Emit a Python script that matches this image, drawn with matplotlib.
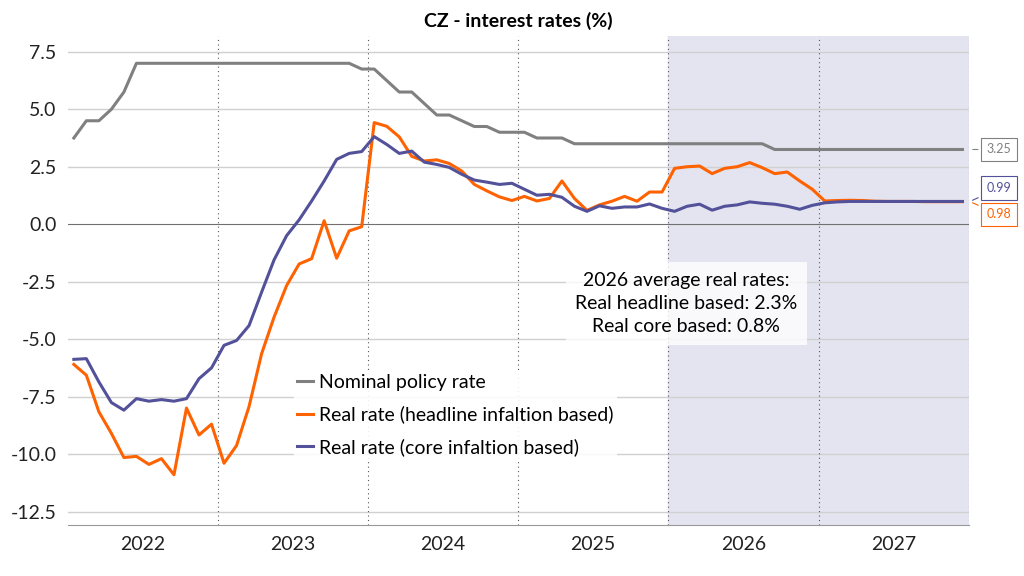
import numpy as np
import matplotlib
matplotlib.use('Agg')
import matplotlib.pyplot as plt

plt.rcParams['font.family'] = ['Lato', 'DejaVu Sans']

# monthly data, Jan 2022 .. Dec 2027
nominal = [3.75, 4.5, 4.5, 5.0, 5.75] + [7.0] * 18 + [6.75, 6.75, 6.25, 5.75, 5.75, 5.25,
           4.75, 4.75, 4.5, 4.25, 4.25, 4.0, 4.0, 4.0, 3.75, 3.75, 3.75] + [3.5] * 16 + [3.25] * 16
headline = [-6.1, -6.57, -8.16, -9.1, -10.15, -10.1, -10.45, -10.2, -10.9, -8.0, -9.17, -8.7,
            -10.4, -9.63, -7.93, -5.64, -4.04, -2.67, -1.73, -1.5, 0.15, -1.48, -0.29, -0.11,
            4.42, 4.26, 3.8, 2.95, 2.75, 2.8, 2.64, 2.31, 1.73, 1.45, 1.19, 1.03,
            1.21, 1.01, 1.12, 1.88, 1.12, 0.6, 0.84, 1.0, 1.21, 1.0, 1.4, 1.4,
            2.43, 2.5, 2.53, 2.2, 2.43, 2.5, 2.68, 2.46, 2.2, 2.27, 1.88, 1.52,
            1.01, 1.03, 1.04, 1.03, 1.0, 0.99, 0.99, 0.99, 0.98, 0.98, 0.98, 0.98]
core = [-5.88, -5.85, -6.86, -7.76, -8.09, -7.59, -7.7, -7.63, -7.7, -7.59, -6.72, -6.25,
        -5.27, -5.06, -4.41, -2.96, -1.55, -0.5, 0.19, 1.01, 1.88, 2.82, 3.08, 3.16,
        3.81, 3.47, 3.08, 3.18, 2.7, 2.6, 2.47, 2.17, 1.92, 1.83, 1.73, 1.78,
        1.52, 1.26, 1.3, 1.17, 0.78, 0.56, 0.8, 0.69, 0.75, 0.75, 0.88, 0.69,
        0.56, 0.78, 0.87, 0.61, 0.78, 0.84, 0.97, 0.91, 0.87, 0.78, 0.65, 0.82,
        0.93, 0.97, 0.99, 0.99, 0.99, 0.99, 0.99, 0.99, 0.99, 0.99, 0.99, 0.99]
years = [2022, 2023, 2024, 2025, 2026, 2027]

t = 2022 + (np.arange(len(nominal)) + 0.5) / 12

C_NOM, C_HEAD, C_CORE = '#808080', '#ff6200', '#525199'

fig = plt.figure(figsize=(10.24, 5.76), dpi=100)
ax = fig.add_axes([0.066, 0.088, 0.88, 0.85])

ax.axvspan(2026, 2028, color='#e4e4f0', zorder=0)
for y in [-12.5, -10, -7.5, -5, -2.5, 2.5, 5, 7.5]:
    ax.axhline(y, color='#d0d0d0', lw=1, zorder=1)
ax.axhline(0, color='#707070', lw=0.8, zorder=1)
for yr in years[1:] + [2028]:
    ax.axvline(yr, color='#555555', lw=0.8, ls=(0, (1, 3)), zorder=1)

ax.plot(t, nominal, color=C_NOM, lw=2.2, label='Nominal policy rate', zorder=3)
ax.plot(t, headline, color=C_HEAD, lw=2.2, label='Real rate (headline infaltion based)', zorder=3)
ax.plot(t, core, color=C_CORE, lw=2.2, label='Real rate (core infaltion based)', zorder=4)

ax.set_xlim(2022, 2028)
ax.set_ylim(-13.1, 8.2)
ax.set_yticks([-12.5, -10, -7.5, -5, -2.5, 0, 2.5, 5, 7.5])
ax.set_yticklabels([f'{v:.1f}' for v in [-12.5, -10, -7.5, -5, -2.5, 0, 2.5, 5, 7.5]])
ax.set_xticks([y + 0.5 for y in years])
ax.set_xticklabels([str(y) for y in years])
ax.tick_params(axis='both', length=0, labelsize=14, colors='#222222', pad=8)
for s in ['top', 'right', 'left']:
    ax.spines[s].set_visible(False)
ax.spines['bottom'].set_color('#999999')
ax.set_title('CZ - interest rates (%)', fontsize=14, fontweight='bold', pad=6)

ax.legend(loc='center left', bbox_to_anchor=(0.24, 0.225), frameon=True, framealpha=0.9,
          edgecolor='none', fontsize=14, handlelength=0.8, handletextpad=0.3,
          labelspacing=0.75, borderpad=0.2)

ax.text(2026.12, -3.45, '2026 average real rates:\nReal headline based: 2.3%\nReal core based: 0.8%',
        ha='center', va='center', fontsize=14, linespacing=1.45,
        bbox=dict(facecolor='white', edgecolor='none', alpha=0.8, boxstyle='square,pad=0.5'))

for val, col, dy in [(3.25, C_NOM, 0), (0.99, C_CORE, 0.58), (0.98, C_HEAD, -0.55)]:
    ax.annotate(f'{val:.2f}', xy=(t[-1] + 0.05, val), xytext=(2028.12, val + dy),
                fontsize=9, color=col, va='center', annotation_clip=False,
                bbox=dict(boxstyle='square,pad=0.45', fc='white', ec=col, lw=0.8),
                arrowprops=dict(arrowstyle='-', color=col, lw=0.8))

fig.savefig('out.png', dpi=100)
